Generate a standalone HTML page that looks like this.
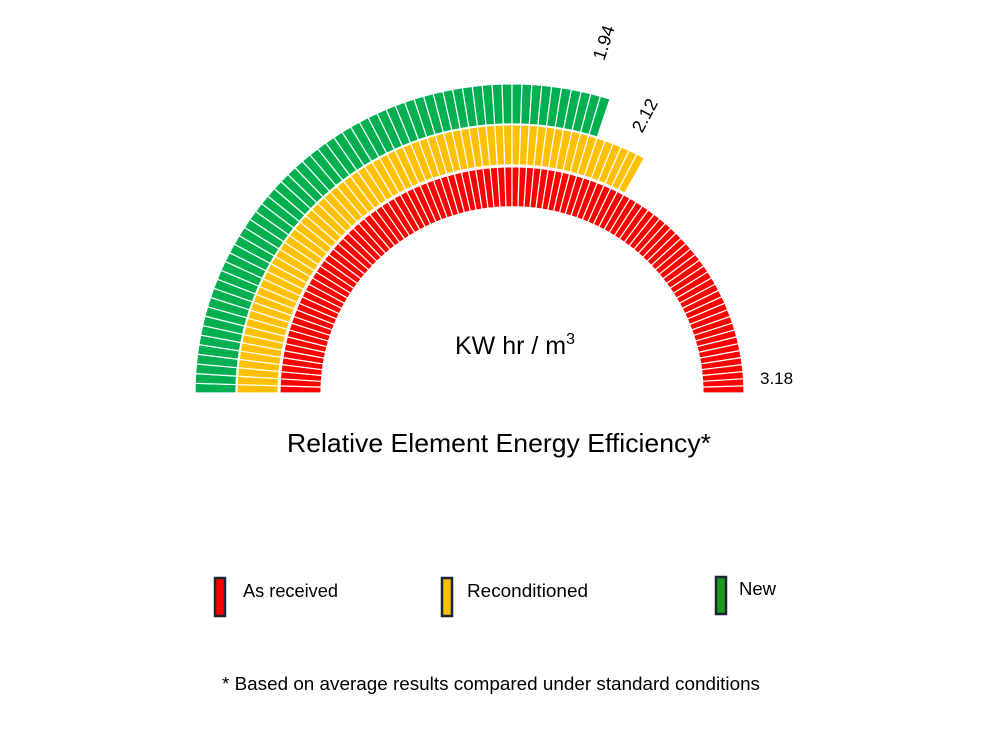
<!DOCTYPE html>
<html><head><meta charset="utf-8"><style>
body{margin:0;background:#fff;}
svg{display:block;font-family:"Liberation Sans",sans-serif;}
</style></head><body>
<svg id="s" width="993" height="732" viewBox="0 0 993 732" xmlns="http://www.w3.org/2000/svg">
<g id="arcs"></g>
<text x="605" y="43" font-size="18" transform="rotate(-72 605 43)" text-anchor="middle" dominant-baseline="middle">1.94</text>
<text x="646" y="116" font-size="18" transform="rotate(-62 646 116)" text-anchor="middle" dominant-baseline="middle">2.12</text>
<text x="760" y="384" font-size="17">3.18</text>
<text x="455" y="354" font-size="25">KW hr / m<tspan font-size="16" dy="-10">3</tspan></text>
<text x="287" y="452" font-size="26" textLength="424" lengthAdjust="spacingAndGlyphs">Relative Element Energy Efficiency*</text>
<rect x="215" y="578" width="10" height="38" fill="#ff0000" stroke="#1a2636" stroke-width="2.5"/>
<text x="243" y="597" font-size="18" textLength="95" lengthAdjust="spacingAndGlyphs">As received</text>
<rect x="442" y="578" width="10" height="38" fill="#ffc000" stroke="#1a2636" stroke-width="2.5"/>
<text x="467" y="597" font-size="18" textLength="121" lengthAdjust="spacingAndGlyphs">Reconditioned</text>
<rect x="716" y="577" width="10" height="37" fill="#1e9a18" stroke="#1a2636" stroke-width="2.5"/>
<text x="739" y="595" font-size="18" textLength="37" lengthAdjust="spacingAndGlyphs">New</text>
<text x="222" y="690" font-size="18" textLength="538" lengthAdjust="spacingAndGlyphs">* Based on average results compared under  standard conditions</text>
</svg>
<script>
var g=document.getElementById('arcs'),cx=512,cy=393,sy=0.975,out='';
function ring(r0,r1,endDeg,col){
  var n=100,step=180/n;
  for(var i=0;i<n;i++){
    var a0=180-i*step,a1=180-(i+1)*step;
    if(a1<endDeg-0.01)break;
    var t0=a0*Math.PI/180,t1=a1*Math.PI/180;
    var p=[[r0,t0],[r1,t0],[r1,t1],[r0,t1]].map(function(q){return (cx+q[0]*Math.cos(q[1])).toFixed(2)+','+(cy-sy*q[0]*Math.sin(q[1])).toFixed(2);});
    out+='<polygon points="'+p.join(' ')+'" fill="'+col+'" stroke="#fff" stroke-width="1.2"/>';
  }
}
ring(276,317,72,'#00b050');
ring(234,275,61,'#ffc000');
ring(191,232,0,'#ff0000');
g.innerHTML=out;
</script>
</body></html>
